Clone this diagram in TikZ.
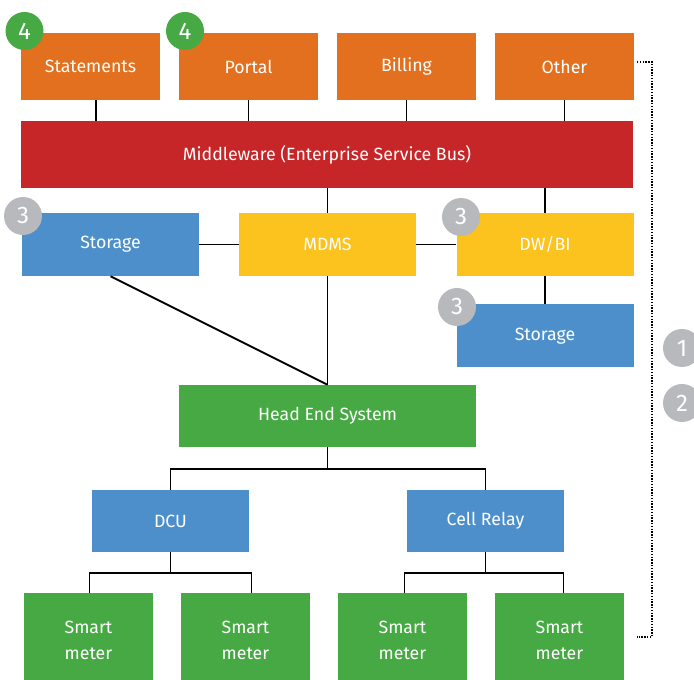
\documentclass[tikz,border=0pt]{standalone}
\usepackage{fontspec}
\setmainfont{Fira Sans}
\usepackage{tikz}
\usetikzlibrary{positioning,calc}
\definecolor{apporange}{RGB}{226,112,30}
\definecolor{busred}{RGB}{198,38,40}
\definecolor{dataamber}{RGB}{252,194,30}
\definecolor{storeblue}{RGB}{76,143,203}
\definecolor{fieldgreen}{RGB}{70,169,67}
\definecolor{badgegrey}{RGB}{184,185,188}
\tikzset{
  block/.style={rectangle,inner sep=0pt,align=center,text=white,font=\fontsize{13.3}{19.5}\selectfont},
  appbox/.style={block,fill=apporange,minimum width=104.25pt,minimum height=50.25pt},
  busbox/.style={block,fill=busred,minimum width=459pt,minimum height=50.25pt},
  midbox/.style={block,minimum width=132.75pt,minimum height=47.25pt},
  fieldbox/.style={block,fill=fieldgreen,minimum height=46.5pt},
  meterbox/.style={block,fill=fieldgreen,minimum width=96.75pt,minimum height=70.5pt},
  badge/.style={circle,inner sep=0pt,minimum size=28.5pt,text=white,font=\fontsize{18}{18}\selectfont},
  link/.style={line width=1.4pt,black}
}

\begin{document}
\begin{tikzpicture}[x=0.75pt,y=-0.75pt]
  \clip (0,0) rectangle (694,680);
  \fill[white] (0,0) rectangle (694,680);
  % applications
  \node[appbox] (stm) at (90.5,66.5) {Statements};
  \node[appbox] (portal) at (248.5,66.5) {Portal};
  \node[appbox] (bill) at (406.5,66.5) {Billing};
  \node[appbox] (other) at (564.5,66.5) {Other};
  \node[busbox] (esb) at (327,154.5) {Middleware (Enterprise Service Bus)};
  % data layer
  \node[midbox,fill=storeblue] (store) at (110.5,244.5) {Storage};
  \node[midbox,fill=dataamber] (mdms) at (327.5,244.5) {MDMS};
  \node[midbox,fill=dataamber] (dwbi) at (545,244.5) {DW/BI};
  \node[midbox,fill=storeblue] (store2) at (545,336) {Storage};
  % field layer
  \node[fieldbox,minimum width=222.75pt] (hes) at (327.5,416) {Head End System};
  \node[fieldbox,fill=storeblue,minimum width=117.75pt] (dcu) at (170.5,521) {DCU};
  \node[fieldbox,fill=storeblue,minimum width=117.75pt] (relay) at (485.5,521) {Cell Relay};
  \node[meterbox] (m1) at (88.5,640) {Smart\\meter};
  \node[meterbox] (m2) at (245.5,640) {Smart\\meter};
  \node[meterbox] (m3) at (402.5,640) {Smart\\meter};
  \node[meterbox] (m4) at (559.5,640) {Smart\\meter};
  % connectors
  \draw[link] ($(stm.south)+(5.5,0)$) -- ($(stm.south |- esb.north)+(5.5,0)$);
  \draw[link] (portal) -- (portal |- esb.north);
  \draw[link] (bill) -- (bill |- esb.north);
  \draw[link] (other) -- (other |- esb.north);
  \draw[link] (esb.south -| mdms) -- (mdms);
  \draw[link] (esb.south -| dwbi) -- (dwbi);
  \draw[link] (store) -- (mdms);
  \draw[link] (mdms) -- (dwbi);
  \draw[link] (dwbi) -- (store2);
  \draw[link] (store.south) -- (hes.north);
  \draw[link] (mdms) -- (hes.north);
  \draw[link] (hes.south) -- ++(0,22) -| (dcu.north);
  \draw[link] (hes.south) ++(0,22) -| (relay.north);
  \draw[link] (dcu.south) -- ++(0,21) -- ++(-81,0) -- ++(0,20);
  \draw[link] (dcu.south) ++(0,21) -- ++(81,0) -- ++(0,20);
  \draw[link] (relay.south) -- ++(0,21) -- ++(-81,0) -- ++(0,20);
  \draw[link] (relay.south) ++(0,21) -- ++(78,0) -- ++(0,20);
  % bracket
  \coordinate (bt) at (637,62);
  \coordinate (bb) at (637,637);
  \draw[line width=1.1pt,densely dotted] (bt) -- ++(15,0) |- (bb);
  % badges
  \node[badge,fill=fieldgreen] (b4a) at (24.5,31) {4};
  \node[badge,fill=fieldgreen] (b4b) at (185,31) {4};
  \node[badge,fill=badgegrey] (b3a) at (23,216) {3};
  \node[badge,fill=badgegrey] (b3b) at (461,217) {3};
  \node[badge,fill=badgegrey] (b3c) at (457,307) {3};
  \node[badge,fill=badgegrey] (b1) at (682,348) {1};
  \node[badge,fill=badgegrey] (b2) at (682,403) {2};
\end{tikzpicture}
\end{document}
